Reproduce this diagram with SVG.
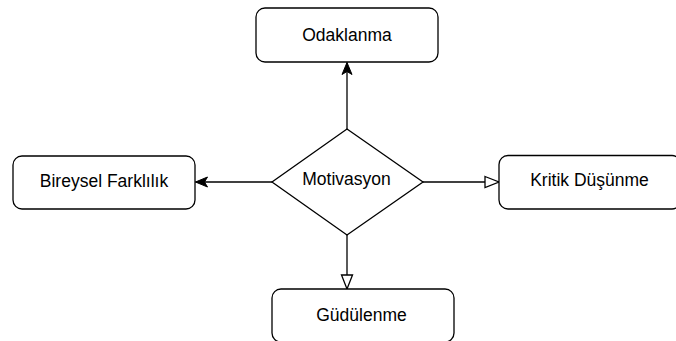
<svg xmlns="http://www.w3.org/2000/svg" width="676" height="341" viewBox="0 0 676 341">
<style>
.box{fill:#fff;stroke:#000;stroke-width:1.3}
.lbl{font-family:"Liberation Sans",Arial,sans-serif;font-size:17.5px;fill:#000;text-anchor:middle}
.con{fill:none;stroke:#000;stroke-width:1.3}
</style>
<defs>
<marker id="filled" markerUnits="userSpaceOnUse" markerWidth="14" markerHeight="12" viewBox="0 0 14 12" refX="13" refY="6" orient="auto">
<path d="M1,1 L13,6 L1,11 L4,6 Z" fill="#000" stroke="#000" stroke-width="1"/>
</marker>
<marker id="open" markerUnits="userSpaceOnUse" markerWidth="17" markerHeight="14" viewBox="0 0 17 14" refX="15.5" refY="7" orient="auto">
<path d="M1.5,1.5 L15.5,7 L1.5,12.5 Z" fill="#fff" stroke="#000" stroke-width="1.3"/>
</marker>
</defs>
<g id="connectors">
<line class="con" x1="347" y1="129" x2="347" y2="62.5" marker-end="url(#filled)"/>
<line class="con" x1="272" y1="182" x2="195.5" y2="182" marker-end="url(#filled)"/>
<line class="con" x1="423" y1="182" x2="499" y2="182" marker-end="url(#open)"/>
<line class="con" x1="347" y1="235" x2="347" y2="289" marker-end="url(#open)"/>
</g>
<g id="odaklanma">
<rect class="box" x="256" y="8" width="182" height="54" rx="9"/>
<text class="lbl" x="347" y="40.5">Odaklanma</text>
</g>
<g id="motivasyon">
<polygon class="box" points="347,129 423,182 347,235 272,182"/>
<text class="lbl" x="346.5" y="185">Motivasyon</text>
</g>
<g id="bireysel">
<rect class="box" x="13" y="156" width="182" height="53" rx="9"/>
<text class="lbl" x="104" y="187">Bireysel Farklılık</text>
</g>
<g id="kritik">
<rect class="box" x="499" y="155.5" width="182" height="53.5" rx="9"/>
<text class="lbl" x="589.5" y="186">Kritik Düşünme</text>
</g>
<g id="gudulenme">
<rect class="box" x="272" y="289" width="182" height="53" rx="9"/>
<text class="lbl" x="361.5" y="320.5">Güdülenme</text>
</g>
</svg>
